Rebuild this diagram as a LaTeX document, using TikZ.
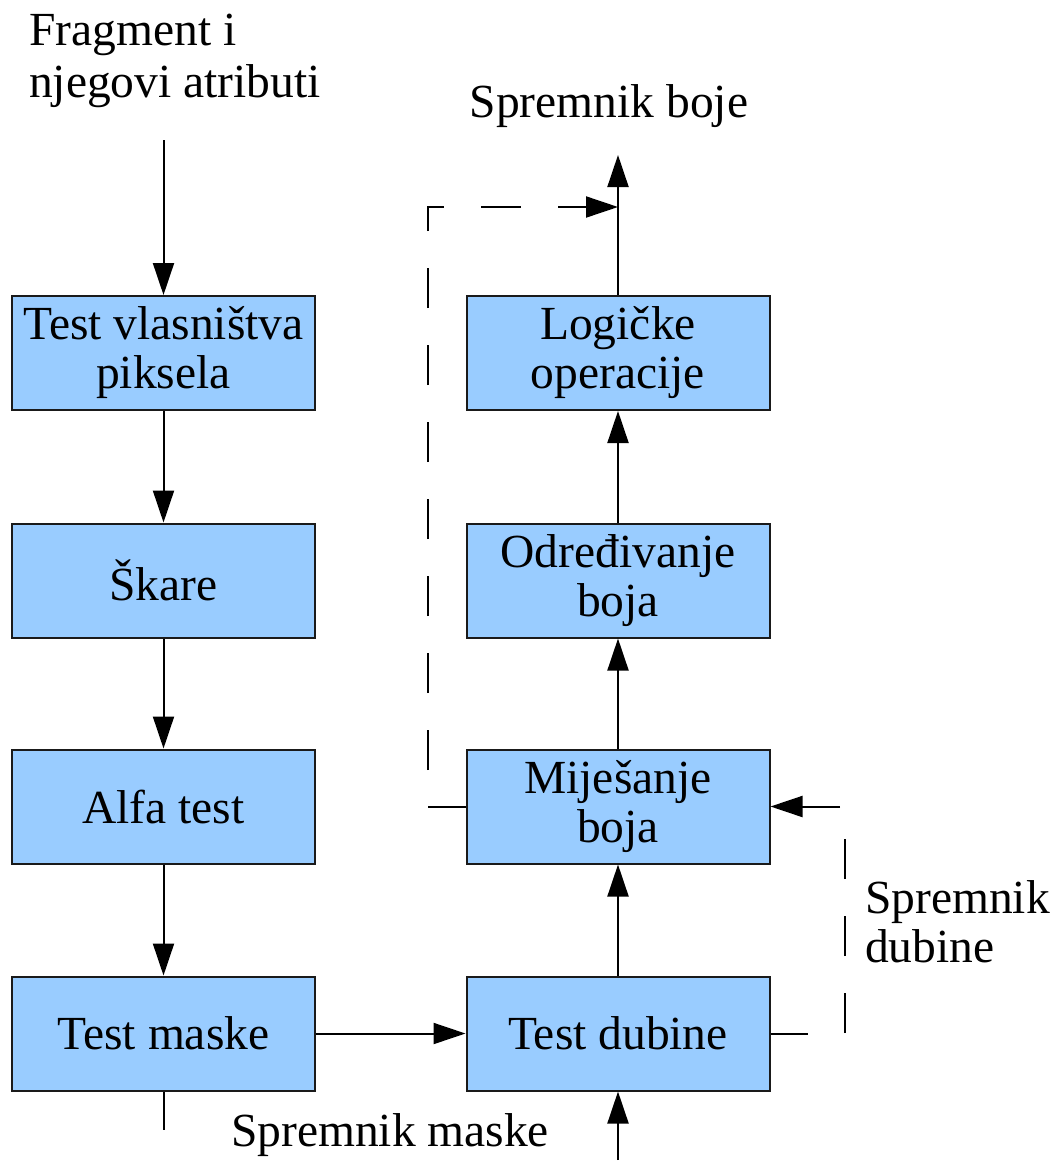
\documentclass[tikz,border=0pt]{standalone}
\usepackage{fontspec}
\setmainfont{Liberation Serif}
\usetikzlibrary{arrows.meta}
\definecolor{boxfill}{HTML}{99CCFF}
\definecolor{edge}{HTML}{1A1A1A}
\begin{document}
\begin{tikzpicture}[x=1pt,y=-1pt,
  stage/.style={draw=edge, line width=2pt, fill=boxfill, minimum width=303pt,
    minimum height=114pt, inner sep=0pt, align=center,
    font=\fontsize{47.5}{49}\selectfont},
  lbl/.style={inner sep=0pt, font=\fontsize{47.5}{50}\selectfont},
  tip/.tip={Triangle[length=32pt,width=21pt]},
  flow/.style={line width=2pt, -tip},
  wire/.style={line width=2pt},
  dashwire/.style={line width=2pt, dash pattern=on 40pt off 37pt}]
\useasboundingbox (0,0) rectangle (1058,1165);

% pipeline stages
\node[stage] (own)   at (163.5,353)   {Test vlasništva\\piksela};
\node[stage] (scis)  at (163.5,580.5) {Škare};
\node[stage] (alpha) at (163.5,806.5) {Alfa test};
\node[stage] (mask)  at (163.5,1033.5) {Test maske};
\node[stage] (logic) at (618,353)     {Logičke\\operacije};
\node[stage] (color) at (618,580.5)   {Određivanje\\boja};
\node[stage] (blend) at (618,806.5)   {Miješanje\\boja};
\node[stage] (depth) at (618,1033.5)  {Test dubine};

% labels
\node[lbl, anchor=base west] (fraglbl) at (29,45)
  {\vtop{\baselineskip=52pt\hbox{Fragment i}\hbox{njegovi atributi}}};
\node[lbl, anchor=base] (bojelbl) at (609,117) {Spremnik boje};
\node[lbl, anchor=base] (maskelbl) at (390,1146) {Spremnik maske};
\node[lbl, anchor=base west] (dubinelbl) at (865,913)
  {\vtop{\baselineskip=49pt\hbox{Spremnik}\hbox{dubine}}};

% free ends
\coordinate (fragin) at (163.5,140);
\coordinate (colorout) at (618,155);
\coordinate (maskstub) at (163.5,1130);
\coordinate (maskin) at (618,1160);
\coordinate (fbstub) at (428,806.5);
\coordinate (fbbot) at (428,770);
\coordinate (fbcorner) at (428,207);
\coordinate (fbend) at (618,207);
\coordinate (dstub) at (808,1033.5);
\coordinate (dbot) at (845,1033);
\coordinate (dtop) at (845,839);
\coordinate (din) at (840,806.5);

% left column, top to bottom
\draw[flow] (fragin) -- (own.north);
\draw[flow] (own.south) -- (scis.north);
\draw[flow] (scis.south) -- (alpha.north);
\draw[flow] (alpha.south) -- (mask.north);
\draw[wire] (mask.south) -- (maskstub);
\draw[flow] (mask.east) -- (depth.west);

% right column, bottom to top
\draw[flow] (maskin) -- (depth.south);
\draw[flow] (depth.north) -- (blend.south);
\draw[flow] (blend.north) -- (color.south);
\draw[flow] (color.north) -- (logic.south);
\draw[flow] (logic.north) -- (colorout);

% colour buffer feedback
\draw[wire] (blend.west) -- (fbstub);
\draw[dashwire, -tip] (fbbot) -- (fbcorner) -- (fbend);

% depth buffer loop
\draw[wire] (depth.east) -- (dstub);
\draw[dashwire] (dbot) -- (dtop);
\draw[flow] (din) -- (blend.east);
\end{tikzpicture}
\end{document}
